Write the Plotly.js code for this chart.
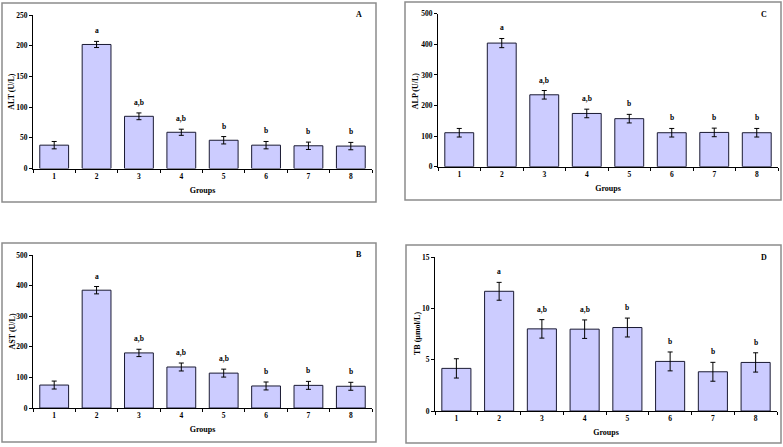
<!DOCTYPE html>
<html><head><meta charset="utf-8">
<script src="https://cdn.plot.ly/plotly-3.0.1.min.js"></script>
<style>html,body{margin:0;padding:0;background:#fff}#chart{width:783px;height:447px}</style>
</head><body><div id="chart"></div>
<script>
const groups = ['1','2','3','4','5','6','7','8'];
const altValues = [38, 202, 85, 59, 46, 38, 37, 36.5];
const altErrors = [6, 5, 5.5, 5, 6, 6, 6, 6];
const altLetters = ['', 'a', 'a,b', 'a,b', 'b', 'b', 'b', 'b'];
const alpValues = [111, 404, 235, 174, 157, 111, 112, 111];
const alpErrors = [14, 15, 14, 14, 14, 14, 14, 14];
const alpLetters = ['', 'a', 'a,b', 'a,b', 'b', 'b', 'b', 'b'];
const astValues = [75, 385, 180, 134, 114, 72, 74, 71];
const astErrors = [13, 12, 12, 13, 13, 13, 13, 13];
const astLetters = ['', 'a', 'a,b', 'a,b', 'a,b', 'b', 'b', 'b'];
const tbValues = [4.15, 11.66, 8.0, 7.97, 8.13, 4.83, 3.82, 4.73];
const tbErrors = [0.94, 0.87, 0.9, 0.9, 0.92, 0.92, 0.92, 0.94];
const tbLetters = ['', 'a', 'a,b', 'a,b', 'b', 'b', 'b', 'b'];

const panels = [
  {vals: altValues, errs: altErrors, letters: altLetters, title: 'ALT (U/L)', label: 'A', ymax: 250, dtick: 50,
   dom: [33, 372, 15, 168.5], box: [2, 376, 3, 202], tx: 12},
  {vals: alpValues, errs: alpErrors, letters: alpLetters, title: 'ALP (U/L)', label: 'C', ymax: 500, dtick: 100,
   dom: [438, 778, 13.7, 166.7], box: [405, 781, 2, 200], tx: 415},
  {vals: astValues, errs: astErrors, letters: astLetters, title: 'AST (U/L)', label: 'B', ymax: 500, dtick: 100,
   dom: [33, 372, 255, 408], box: [2, 376, 243, 442], tx: 12},
  {vals: tbValues, errs: tbErrors, letters: tbLetters, title: 'TB (µmol/L)', label: 'D', ymax: 15, dtick: 5,
   dom: [435, 777, 257, 411], box: [406, 781, 245, 443], tx: 417}
];
const W = 783, H = 447;
const font = 'Liberation Serif, Times New Roman, serif';
const data = [], annotations = [], shapes = [];
const layout = {width: W, height: H, margin: {l:0, r:0, t:0, b:0}, showlegend: false, bargap: 0.32,
  paper_bgcolor: '#fff', plot_bgcolor: '#fff', font: {family: font, color: '#000'}};
panels.forEach((p, i) => {
  const n = i + 1;
  const xa = 'xaxis' + (n === 1 ? '' : n), ya = 'yaxis' + (n === 1 ? '' : n);
  const xr = 'x' + (n === 1 ? '' : n), yr = 'y' + (n === 1 ? '' : n);
  data.push({type: 'bar', x: groups, y: p.vals, xaxis: xr, yaxis: yr,
    marker: {color: '#CCCCFF', line: {color: '#1a1a33', width: 1}},
    error_y: {type: 'data', array: p.errs, visible: true, color: '#000', thickness: 1, width: 2.5},
    hoverinfo: 'skip'});
  layout[xa] = {domain: [p.dom[0]/W, p.dom[1]/W], anchor: yr, type: 'category', range: [-0.5, 7.5],
    tickson: 'boundaries', ticks: 'outside', ticklen: 3, tickcolor: '#000', showline: true, linecolor: '#000', linewidth: 1,
    showgrid: false, zeroline: false, tickfont: {family: font, size: 7.5, weight: 'bold', color: '#000'},
    title: {text: '<b>Groups</b>', font: {family: font, size: 8, color: '#000'}, standoff: 7}};
  layout[ya] = {domain: [1 - p.dom[3]/H, 1 - p.dom[2]/H], anchor: xr, range: [0, p.ymax], dtick: p.dtick,
    ticks: 'outside', ticklen: 3, tickcolor: '#000', showline: true, linecolor: '#000', linewidth: 1,
    showgrid: false, zeroline: false, tickfont: {family: font, size: 7.5, weight: 'bold', color: '#000'}};
  annotations.push({xref: 'paper', yref: 'paper', x: p.tx / W, y: 1 - (p.dom[2] + p.dom[3]) / 2 / H,
    text: '<b>' + p.title + '</b>', textangle: -90, showarrow: false, xanchor: 'center', yanchor: 'middle',
    font: {family: font, size: 8, color: '#000'}});
  p.letters.forEach((t, k) => {
    if (!t) return;
    annotations.push({xref: xr, yref: yr, x: k, y: p.vals[k] + p.errs[k], text: '<b>' + t + '</b>',
      showarrow: false, yanchor: 'bottom', yshift: 4, font: {family: font, size: 7.5, color: '#000'}});
  });
  annotations.push({xref: 'paper', yref: 'paper', x: (p.box[1] - 17)/W, y: 1 - (p.box[2] + 12)/H,
    text: '<b>' + p.label + '</b>', showarrow: false, xanchor: 'center', yanchor: 'middle',
    font: {family: font, size: 8, color: '#000'}});
  shapes.push({type: 'rect', xref: 'paper', yref: 'paper', x0: p.box[0]/W, x1: p.box[1]/W,
    y0: 1 - p.box[3]/H, y1: 1 - p.box[2]/H, line: {color: '#8c8c8c', width: 1.5}});
});
layout.annotations = annotations;
layout.shapes = shapes;
Plotly.newPlot('chart', data, layout, {displayModeBar: false, staticPlot: true});
</script></body></html>
